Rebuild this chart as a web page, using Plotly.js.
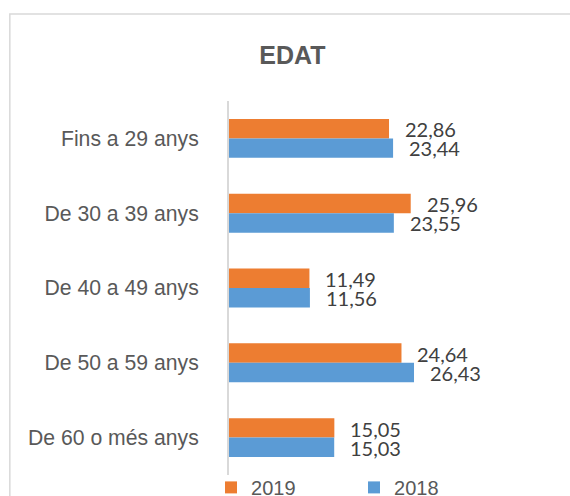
<!DOCTYPE html>
<html>
<head>
<meta charset="utf-8">
<script src="https://cdn.plot.ly/plotly-3.0.1.min.js"></script>
<style>
  html, body { margin: 0; padding: 0; background: #fff; }
  #chart { width: 570px; height: 496px; }
</style>
</head>
<body>
<div id="chart"></div>
<script>
const categories = ["Fins a 29 anys", "De 30 a 39 anys", "De 40 a 49 anys", "De 50 a 59 anys", "De 60 o més anys"];
const values2019 = [22.86, 25.96, 11.49, 24.64, 15.05];
const values2018 = [23.44, 23.55, 11.56, 26.43, 15.03];
const seriesNames = ["2019", "2018"];
const chartTitle = "EDAT";

const fmt = v => v.toFixed(2).replace(".", ",");

const traces = [
  { type: "bar", orientation: "h", name: seriesNames[0], y: categories, x: values2019,
    marker: { color: "#ED7D31" }, hoverinfo: "x+y" },
  { type: "bar", orientation: "h", name: seriesNames[1], y: categories, x: values2018,
    marker: { color: "#5B9BD5" }, hoverinfo: "x+y" }
];

const labelFont = { family: "Lato, 'Liberation Sans', sans-serif", size: 20, color: "#404040" };
const annotations = [];
categories.forEach((c, i) => {
  annotations.push({ x: values2019[i], y: c, xref: "x", yref: "y", text: fmt(values2019[i]),
    showarrow: false, xanchor: "left", yanchor: "middle", xshift: 14, yshift: 9, font: labelFont });
  annotations.push({ x: values2018[i], y: c, xref: "x", yref: "y", text: fmt(values2018[i]),
    showarrow: false, xanchor: "left", yanchor: "middle", xshift: 14, yshift: -10, font: labelFont });
});

const L = 229, W = 280.4, T = 100.6, H = 374;
const layout = {
  width: 570, height: 496,
  margin: { l: L, r: 570 - L - W, t: T, b: 496 - T - H, autoexpand: false, pad: 0 },
  paper_bgcolor: "#ffffff", plot_bgcolor: "#ffffff",
  barmode: "group", bargap: 0.48, bargroupgap: 0,
  title: { text: chartTitle, xref: "paper", x: (292.5 - L) / W, xanchor: "center",
    yref: "container", y: 1 - 55.5 / 496, yanchor: "middle",
    font: { family: "'Liberation Sans', Arial, sans-serif", size: 25, color: "#595959", weight: "bold" } },
  xaxis: { range: [0, 40], visible: false, showgrid: false, zeroline: false, fixedrange: true },
  yaxis: { type: "category", autorange: "reversed", showline: true, linecolor: "#d9d9d9", linewidth: 2,
    ticks: "", showgrid: false, zeroline: false, ticklabelstandoff: 24,
    tickfont: { family: "'Liberation Sans', Arial, sans-serif", size: 21.2, color: "#595959" } },
  showlegend: true,
  legend: { orientation: "h", x: (211 - L) / W, xanchor: "left", y: (T + H - 487) / H, yanchor: "middle",
    entrywidth: 98, entrywidthmode: "pixels", traceorder: "normal",
    font: { family: "'Liberation Sans', Arial, sans-serif", size: 20, color: "#595959" },
    bgcolor: "rgba(0,0,0,0)", borderwidth: 0 },
  annotations: annotations,
  shapes: [{ type: "rect", xref: "paper", yref: "paper",
    x0: (9.5 - L) / W, x1: 1.5, y0: -0.3, y1: 1 + (T - 13.5) / H,
    line: { color: "#d9d9d9", width: 1.5 }, fillcolor: "rgba(0,0,0,0)", layer: "below" }]
};

Plotly.newPlot("chart", traces, layout, { displayModeBar: false, staticPlot: true });
</script>
</body>
</html>
